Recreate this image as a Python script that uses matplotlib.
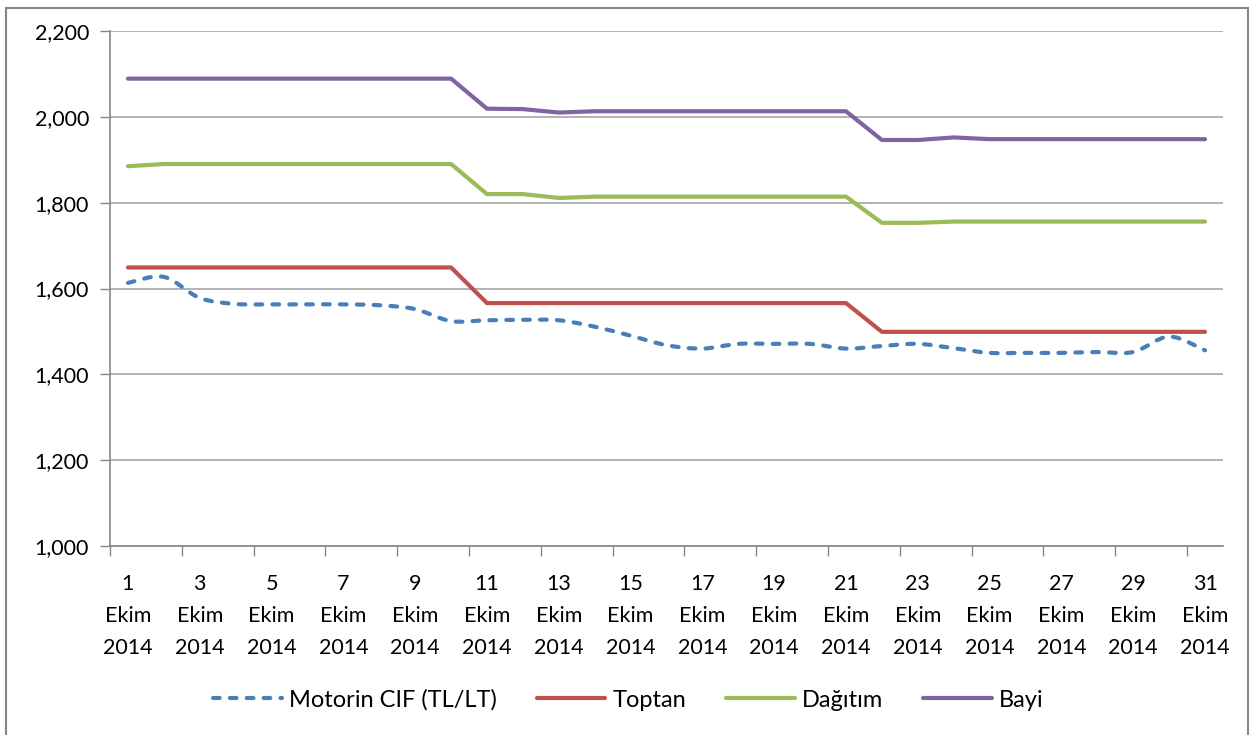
import numpy as np
import matplotlib
matplotlib.use("Agg")
import matplotlib.pyplot as plt
from matplotlib.path import Path
from matplotlib.patches import PathPatch, Rectangle
from matplotlib.lines import Line2D

plt.rcParams['font.family'] = ['Lato', 'DejaVu Sans']

# Ekim 2014 daily prices
days = list(range(1, 32))
motorin_cif = [1613, 1627, 1578, 1564, 1563, 1563, 1563, 1561, 1552, 1524,
               1526, 1527, 1526, 1511, 1490, 1468, 1460, 1471, 1471, 1471,
               1460, 1466, 1471, 1461, 1450, 1450, 1450, 1452, 1452, 1488,
               1456]
toptan = [1649] * 10 + [1566] * 11 + [1499] * 10
dagitim = [1885] + [1890] * 9 + [1820, 1820, 1811] + [1814] * 8 + \
          [1753, 1753] + [1756] * 8
bayi = [2089] * 10 + [2019, 2018, 2010] + [2013] * 8 + \
       [1946, 1946, 1952] + [1948] * 7

series_names = ["Motorin CIF (TL/LT)", "Toptan", "Dağıtım", "Bayi"]
colors = ["#4A7EBB", "#C0504D", "#9BBB59", "#8064A2"]
tick_days = days[::2]
tick_labels = [f"{d}\nEkim\n2014" for d in tick_days]

fig = plt.figure(figsize=(12.57, 7.35), dpi=100)
ax = fig.add_axes([110 / 1257, 1 - 546 / 735, (1223 - 110) / 1257, (546 - 31) / 735])

lw = 3.0
dash = (0, (1.6, 2.45))


# smoothed line like the spreadsheet chart (Bezier through the points)
def smooth_path(x, y):
    pts = np.column_stack([x, y]).astype(float)
    n = len(pts)
    verts = [pts[0]]
    codes = [Path.MOVETO]
    for i in range(n - 1):
        p0 = pts[i - 1] if i > 0 else pts[i]
        p1 = pts[i]
        p2 = pts[i + 1]
        p3 = pts[i + 2] if i + 2 < n else pts[i + 1]
        c1 = p1 + (p2 - p0) / 6.0
        c2 = p2 - (p3 - p1) / 6.0
        verts += [c1, c2, p2]
        codes += [Path.CURVE4] * 3
    return Path(verts, codes)


ax.add_patch(PathPatch(smooth_path(days, motorin_cif), fill=False,
                       edgecolor=colors[0], lw=lw, linestyle=dash,
                       capstyle='round', joinstyle='round', zorder=3))
for vals, c in zip([toptan, dagitim, bayi], colors[1:]):
    ax.plot(days, vals, color=c, lw=lw, solid_capstyle='round',
            solid_joinstyle='round', zorder=3)

ax.set_xlim(0.5, 31.5)
ax.set_ylim(1000, 2200)
ax.set_yticks(np.arange(1000, 2201, 200))
ax.set_yticklabels([f"{v:,}" for v in range(1000, 2201, 200)])
ax.set_xticks(tick_days)
ax.set_xticklabels(tick_labels, linespacing=1.75)
ax.set_xticks(np.arange(0.5, 31, 2), minor=True)
ax.tick_params(axis='x', which='major', length=0, pad=20, labelsize=15.5, colors='#000000')
ax.tick_params(axis='x', which='minor', length=7, color='#868686', width=1)
ax.tick_params(axis='y', length=7, color='#868686', width=1, labelsize=15.5, pad=8)

ax.grid(axis='y', color='#A6A6A6', lw=1.2)
ax.set_axisbelow(True)
for s in ['top', 'right']:
    ax.spines[s].set_visible(False)
for s in ['left', 'bottom']:
    ax.spines[s].set_color('#868686')
    ax.spines[s].set_linewidth(1.2)

handles = [Line2D([], [], color=colors[0], lw=lw, linestyle=dash, dash_capstyle='round')]
handles += [Line2D([], [], color=c, lw=lw, solid_capstyle='round') for c in colors[1:]]
fig.legend(handles, series_names, loc='center', bbox_to_anchor=(0.5, 1 - 700 / 735),
           ncol=4, frameon=False, fontsize=17, handlelength=2.9,
           handletextpad=0.3, columnspacing=1.7)

# chart area frame
fig.patches.append(Rectangle((6 / 1257, -0.05), (1248 - 6) / 1257, 1.05 - 8 / 735,
                             transform=fig.transFigure, fill=False,
                             edgecolor='#868686', lw=1.5))

fig.savefig("out.png", dpi=100)
